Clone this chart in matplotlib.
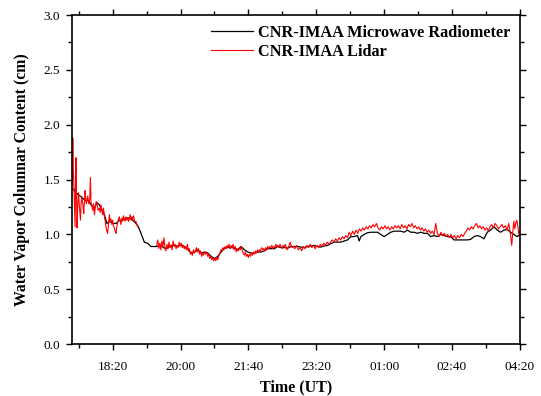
import numpy as np
import matplotlib
matplotlib.use("Agg")
import matplotlib.pyplot as plt
from matplotlib.ticker import FixedLocator, MultipleLocator

# minutes since 17:20 UT
mwr_t = [1.2, 4.6, 9.5, 14.4, 19.3, 24.2, 28.1, 33.1, 36.9, 40.4, 42.8, 47.8, 51.5, 55.1, 60, 64.9,
         69.8, 74.7, 79.6, 84.5, 89.4, 94.3, 97.8, 101.7, 106.6, 111.5, 116.3, 121.3, 126.2, 131,
         136, 140.9, 145.7, 150.7, 155.6, 160.4, 165.4, 170.3, 175.7, 180.6, 185.5, 190.4, 195.3,
         200.2, 205.1, 210, 214.9, 219.8, 224.7, 229.6, 234.6, 239.4, 244.3, 249.2, 254.1, 259,
         264, 268.8, 273.7, 278.6, 283.5, 288.5, 293.4, 298.2, 303.1, 308, 312.9, 317.8, 322.8,
         327.6, 332.5, 337.4, 342.3, 347.2, 352.1, 357, 361.9, 366.8, 371.7, 376.6, 381.5, 386.4,
         391.3, 396.2, 401.1, 406, 411, 415.8, 420.7, 423.2, 425.6, 430.5, 435.4, 440.3, 445.2,
         450.1, 455, 459.9, 464.8, 469.7, 474.6, 479.5, 484.4, 489.4, 494.2, 499.2, 504.1, 509,
         513.9, 518.8, 523.7, 528.6, 533.5, 538.4, 543.3, 548.2, 553.1, 558, 562.9, 567.8, 572.7,
         577.6, 582.5, 587.4, 592.3, 597.2, 602.1, 607, 611.9, 616.8, 621.7, 626.6, 631.5, 636.4,
         641.3, 646.2, 651.1, 656, 660]
mwr_v = [1.42, 1.39, 1.36, 1.34, 1.31, 1.31, 1.27, 1.24, 1.29, 1.27, 1.24, 1.18, 1.10, 1.12, 1.10, 1.10,
         1.13, 1.13, 1.15, 1.15, 1.13, 1.10, 1.07, 1.01, 0.93, 0.92, 0.89, 0.89, 0.89, 0.90,
         0.875, 0.875, 0.90, 0.90, 0.89, 0.91, 0.89, 0.87, 0.83, 0.84, 0.86, 0.83, 0.84,
         0.83, 0.80, 0.78, 0.80, 0.84, 0.875, 0.88, 0.88, 0.875, 0.86, 0.89, 0.86, 0.84,
         0.83, 0.83, 0.84, 0.84, 0.85, 0.87, 0.87, 0.87, 0.89, 0.88, 0.88, 0.875, 0.89,
         0.89, 0.89, 0.885, 0.88, 0.89, 0.895, 0.90, 0.89, 0.885, 0.895, 0.90, 0.915, 0.93,
         0.93, 0.93, 0.94, 0.95, 0.98, 0.98, 0.99, 0.94, 0.98, 1.00, 1.015, 1.02, 1.02,
         1.02, 1.00, 0.98, 1.00, 1.02, 1.03, 1.03, 1.03, 1.02, 1.04, 1.02, 1.02, 1.01,
         1.02, 1.01, 1.01, 0.98, 0.99, 0.98, 1.00, 0.99, 0.98, 0.98, 0.95, 0.95, 0.95,
         0.95, 0.95, 0.955, 0.98, 0.99, 0.98, 0.96, 1.02, 1.04, 1.07, 1.04, 1.02, 1.04,
         1.045, 1.02, 1.00, 0.98, 1.00]

lidar_t = [0.5, 1.2, 2.0, 3.0, 4.0, 4.6, 5.3, 6.0, 6.6, 7.5, 8.5, 9.5, 10.5, 11.5, 12.5, 13.5, 14.4,
           15.5, 16.5, 17.4, 18.4, 19.3, 20.3, 21.2, 22.2, 23.2, 24.2, 25.2, 26.2, 27.2, 28.1, 29.4,
           30.6, 31.8, 33.1, 34.5, 35.7, 36.9, 38.5, 40.4, 41.6, 42.8, 44.0, 45.3, 46.5, 47.8, 49.0,
           50.2, 51.4, 52.6, 53.9, 55.1, 56.3, 57.5, 58.8, 60.0, 61.2, 62.5, 63.7, 64.9, 66.1, 67.4,
           68.6, 69.8, 71.0, 72.2, 73.4, 74.7, 75.9, 77.2, 78.4, 79.6, 80.8, 82.1, 83.3, 84.5, 85.7,
           87.0, 88.2, 89.4, 90.7, 91.9, 93.1, 94.3, 95.6, 96.8, 110.0,
           125, 126.5, 128, 129.5, 131, 132.5, 134, 135.5, 137, 138.5, 140, 141.5, 143, 144.5, 146,
           147.5, 149, 150.5, 152, 153.5, 155, 156.5, 158, 159.5, 161, 162.5, 164, 165.5, 167, 168.5,
           170, 171.5, 173, 174.5, 176, 177.5, 179, 180.5, 182, 183.5, 185, 186.5, 188, 189.5, 191,
           192.5, 194, 195.5, 197, 198.5, 200, 201.5, 203, 204.5, 206, 207.5, 209, 210.5, 212, 213.5,
           215, 216.5, 218, 219.5, 221, 222.5, 224, 225.5, 227, 228.5, 230, 231.5, 233, 234.5, 236,
           237.5, 239, 240.5, 242, 243.5, 245, 246.5, 248, 249.5, 251, 252.5, 254, 255.5, 257, 258.5,
           260, 261.5, 263, 264.5, 266, 267.5, 269, 270.5, 272, 273.5, 275, 276.5, 278, 279.5, 281,
           282.5, 284, 285.5, 287, 288.5, 290, 291.5, 293, 294.5, 296, 297.5, 299, 300.5, 302, 303.5,
           305, 306.5, 308, 309.5, 311, 312.5, 314, 315.5, 317, 318.5, 320, 321.5, 323, 324.5,
           326, 328.5, 331, 333.5, 336, 338.5, 341, 343.5, 346, 348.5, 351, 353.5, 356, 358.5, 361,
           363.5, 366, 368.5, 371, 373.5, 376, 378.5, 381, 383.5, 386, 388.5, 391, 393.5, 396, 398.5,
           401, 403.5, 406, 408.5, 411, 413.5, 416, 418.5, 421, 423.5, 426, 428.5, 431, 433.5, 436,
           438.5, 441, 443.5, 446, 448.5, 451, 453.5, 456, 458.5, 461, 463.5, 466, 468.5, 471, 473.5,
           476, 478.5, 481, 483.5, 486, 488.5, 491, 493.5, 496, 498.5, 501, 503.5, 506, 508.5, 511,
           513.5, 516, 518.5, 521, 523.5, 526, 528.5, 531, 533.5, 536, 538.5, 541, 543.5, 546, 548.5,
           551, 553.5, 556, 558.5, 561, 563.5, 566, 568.5, 571, 573.5, 576, 578.5, 581, 583.5, 586,
           588.5, 591, 593.5, 596, 598.5, 601, 603.5, 606, 608.5, 611, 613.5, 616, 618.5, 621, 623.5,
           626, 628.5, 631, 633.5, 636, 638.5, 641, 643.5, 645, 646.5, 648, 649.5, 651, 652.5, 654,
           655.5, 657, 658.5, 660]
lidar_v = [1.45, 1.88, 1.60, 1.43, 1.20, 1.07, 1.45, 1.70, 1.40, 1.06, 1.25, 1.38, 1.30, 1.22, 1.13, 1.28, 1.34,
           1.30, 1.25, 1.19, 1.30, 1.40, 1.33, 1.28, 1.31, 1.35, 1.30, 1.28, 1.33, 1.52, 1.29, 1.26,
           1.22, 1.28, 1.18, 1.25, 1.30, 1.28, 1.22, 1.24, 1.20, 1.27, 1.22, 1.18, 1.24, 1.16, 1.12,
           1.07, 1.03, 1.01, 1.10, 1.18, 1.12, 1.14, 1.09, 1.13, 1.08, 1.06, 1.03, 1.01, 1.07, 1.11,
           1.14, 1.16, 1.12, 1.09, 1.15, 1.12, 1.17, 1.14, 1.12, 1.16, 1.13, 1.15, 1.12, 1.14, 1.18,
           1.13, 1.16, 1.14, 1.17, 1.13, 1.11, 1.12, 1.09, 1.07, np.nan,
           0.90, 0.95, 0.87, 0.92, 0.86, 0.94, 0.89, 0.97, 0.88, 0.85, 0.91, 0.87, 0.93, 0.88, 0.90,
           0.86, 0.94, 0.89, 0.91, 0.87, 0.90, 0.88, 0.93, 0.89, 0.92, 0.88, 0.90, 0.87, 0.89, 0.86,
           0.91, 0.85, 0.87, 0.82, 0.84, 0.81, 0.86, 0.83, 0.85, 0.88, 0.84, 0.87, 0.82, 0.85, 0.80,
           0.83, 0.81, 0.84, 0.82, 0.84, 0.80, 0.82, 0.78, 0.80, 0.77, 0.79, 0.76, 0.78, 0.76, 0.79,
           0.77, 0.81, 0.83, 0.86, 0.85, 0.88, 0.86, 0.89, 0.87, 0.90, 0.88, 0.91, 0.87, 0.90, 0.88,
           0.91, 0.86, 0.89, 0.84, 0.87, 0.85, 0.88, 0.86, 0.89, 0.85, 0.83, 0.81, 0.84, 0.80, 0.82,
           0.79, 0.82, 0.80, 0.83, 0.81, 0.84, 0.82, 0.85, 0.83, 0.86, 0.84, 0.86, 0.85, 0.88, 0.86,
           0.87, 0.85, 0.88, 0.86, 0.89, 0.87, 0.89, 0.88, 0.90, 0.87, 0.89, 0.88, 0.91, 0.89, 0.90,
           0.88, 0.91, 0.89, 0.87, 0.90, 0.88, 0.91, 0.89, 0.86, 0.88, 0.90, 0.93, 0.90, 0.88,
           0.89, 0.87, 0.90, 0.86, 0.88, 0.85, 0.89, 0.87, 0.90, 0.88, 0.91, 0.88, 0.90, 0.87, 0.90,
           0.88, 0.91, 0.89, 0.92, 0.90, 0.93, 0.91, 0.93, 0.95, 0.93, 0.96, 0.94, 0.97, 0.95, 0.98,
           0.96, 0.99, 0.97, 1.02, 0.99, 1.03, 1.00, 1.04, 1.01, 1.05, 1.03, 1.06, 1.04, 1.07, 1.05,
           1.08, 1.06, 1.09, 1.07, 1.10, 1.06, 1.04, 1.07, 1.05, 1.08, 1.05, 1.07, 1.04, 1.07, 1.05,
           1.08, 1.06, 1.08, 1.05, 1.09, 1.06, 1.08, 1.05, 1.09, 1.07, 1.10, 1.06, 1.08, 1.05, 1.07,
           1.04, 1.06, 1.03, 1.05, 1.02, 1.04, 1.01, 1.03, 1.00, 1.10, 1.01, 0.98, 1.02, 0.99, 1.01,
           0.98, 1.00, 0.97, 1.00, 0.97, 0.99, 0.96, 0.99, 0.97, 1.00, 0.98, 1.01, 1.03, 1.06, 1.04,
           1.07, 1.05, 1.08, 1.10, 1.06, 1.08, 1.05, 1.07, 1.04, 1.06, 1.03, 1.07, 1.09, 1.06, 1.10,
           1.08, 1.05, 1.07, 1.09, 1.06, 1.08, 1.04, 1.10, 1.05, 0.98, 0.90, 1.02, 1.12, 1.05, 1.11,
           1.13, 1.07, 1.00, 1.03]

xtick_pos = [60, 160, 260, 360, 460, 560, 660]
xtick_labels = ["18:20", "20:00", "21:40", "23:20", "01:00", "02:40", "04:20"]
xminor_pos = [10, 110, 210, 310, 410, 510, 610]

serif = ["Liberation Serif", "DejaVu Serif"]
plt.rcParams["font.family"] = serif

fig = plt.figure(figsize=(5.41, 3.96), dpi=100)
ax = fig.add_axes([0.133, 0.131, 0.828, 0.831])

ax.plot(mwr_t, mwr_v, color="black", lw=0.9, label="CNR-IMAA Microwave Radiometer")
ax.plot(lidar_t, lidar_v, color="#ff0000", lw=0.8, label="CNR-IMAA Lidar")

ax.set_xlim(0, 660)
ax.set_ylim(0, 3.0)
ax.xaxis.set_major_locator(FixedLocator(xtick_pos))
ax.set_xticklabels(xtick_labels)
ax.xaxis.set_minor_locator(FixedLocator(xminor_pos))
ax.yaxis.set_major_locator(MultipleLocator(0.5))
ax.yaxis.set_minor_locator(MultipleLocator(0.25))
ax.yaxis.set_major_formatter(matplotlib.ticker.FormatStrFormatter("%.1f"))

ax.tick_params(which="both", direction="out", top=True, right=True, labeltop=False, labelright=False,
               width=1.0, labelsize=9.5)
ax.tick_params(which="major", length=4.5)
ax.tick_params(which="minor", length=3)
ax.tick_params(axis="x", which="major", pad=8)
ax.tick_params(axis="y", which="major", pad=4)
for s in ax.spines.values():
    s.set_linewidth(1.2)

ax.set_xlabel("Time (UT)", fontsize=11.5, fontweight="bold", labelpad=4)
ax.set_ylabel("Water Vapor Columnar Content (cm)", fontsize=11.3, fontweight="bold", labelpad=10)

leg = ax.legend(loc="upper right", frameon=False, prop={"family": serif, "weight": "bold", "size": 11.7},
                handlelength=2.6, handletextpad=0.3, labelspacing=0.2, borderaxespad=0.2,
                borderpad=0.4)

fig.savefig("out.png", dpi=100)
